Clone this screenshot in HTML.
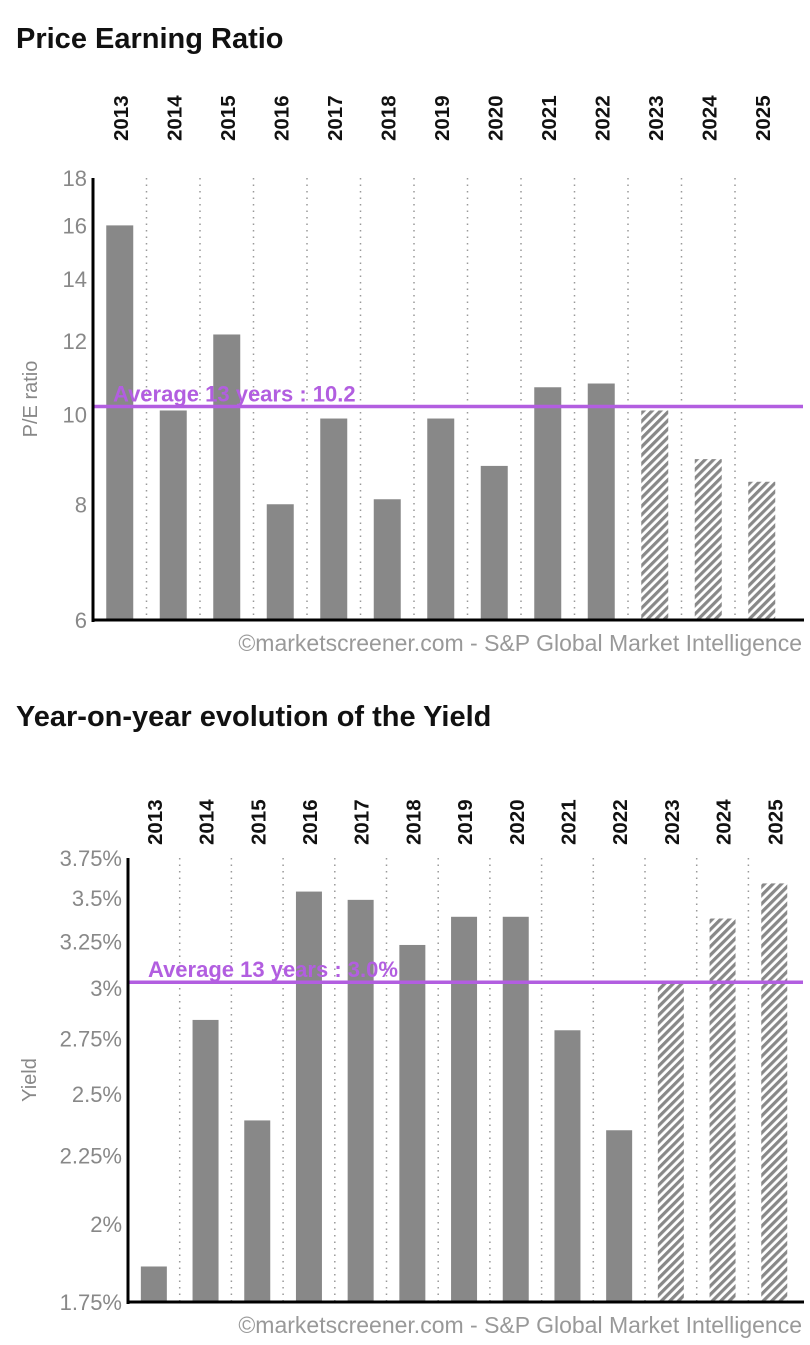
<!DOCTYPE html>
<html><head><meta charset="utf-8"><style>
body{margin:0;background:#fff;width:810px;height:1345px;overflow:hidden;font-family:"Liberation Sans",sans-serif}
svg{position:absolute;left:0;top:0}
</style></head><body>
<svg id="s" width="810" height="1345">
<defs><pattern id="hatch" patternUnits="userSpaceOnUse" width="6" height="6" patternTransform="rotate(45)"><rect width="6" height="6" fill="#fff"/><rect width="3.2" height="6" fill="#888"/></pattern></defs>
<text x="16" y="48" font-size="29" font-weight="bold" fill="#111">Price Earning Ratio</text>
<text x="16" y="726" font-size="29" font-weight="bold" fill="#111">Year-on-year evolution of the Yield</text>
</svg>
<script>
const years=["2013","2014","2015","2016","2017","2018","2019","2020","2021","2022","2023","2024","2025"];
const peValues=[16.0,10.1,12.2,8.0,9.9,8.1,9.9,8.8,10.7,10.8,10.1,8.95,8.46];
const peTicks=[6,8,10,12,14,16,18];
const peAvg=10.2;
const yieldValues=[1.86,2.84,2.39,3.54,3.49,3.23,3.39,3.39,2.79,2.35,3.03,3.38,3.59];
const yieldTicks=[1.75,2,2.25,2.5,2.75,3,3.25,3.5,3.75];
const yieldTickLabels=["1.75%","2%","2.25%","2.5%","2.75%","3%","3.25%","3.5%","3.75%"];
const yieldAvg=3.03;
const forecastFrom=10;
const svg=document.getElementById('s');
const NS='http://www.w3.org/2000/svg';
function mk(tag,attrs,parent){const e=document.createElementNS(NS,tag);for(const k in attrs)e.setAttribute(k,attrs[k]);(parent||svg).appendChild(e);return e;}
function chart(o){
  const g=mk('g',{});
  
  
  const ly=v=>o.bottom-(Math.log(v)-Math.log(o.min))/(Math.log(o.max)-Math.log(o.min))*(o.bottom-o.top);
  const sx=i=>o.left+o.step*(i+0.5);
  for(let i=1;i<years.length;i++){const l=mk('line',{x1:o.left+o.step*i,x2:o.left+o.step*i,y1:o.top,y2:o.bottom,stroke:'#999','stroke-width':1.5,'stroke-dasharray':'1.5 5'},g);}
  o.values.forEach((v,i)=>{
    const y=ly(v);
    const r=mk('rect',{x:sx(i)-o.bw/2,y:y,width:o.bw,height:o.bottom-y,fill:i>=forecastFrom?'url(#hatch)':'#888'},g);
    
    
    const t=mk('text',{x:0,y:0,'font-size':20.5,'font-weight':'bold',fill:'#111',transform:`translate(${sx(i)+8},${o.labelBase}) rotate(-90)`},g);
    t.textContent=years[i];
    
    
  });
  o.ticks.forEach((v,i)=>{
    const t=mk('text',{x:o.left-6,y:ly(v)+8,'font-size':22,fill:'#888','text-anchor':'end'},g);
    t.textContent=o.tickLabels?o.tickLabels[i]:v;
    
    
  });
  const ya=ly(o.avg);
  const al=mk('line',{x1:o.left,x2:803,y1:ya,y2:ya,stroke:'#b25ee0','stroke-width':3.5},g);
  
  
  const at=mk('text',{x:o.avgX,y:ya-5,'font-size':22,'font-weight':'bold',fill:'#b25ee0'},g);
  at.textContent=o.avgLabel;
  
  
  const ax=mk('line',{x1:o.left,x2:o.left,y1:o.top,y2:o.bottom+2,stroke:'#000','stroke-width':3},g);
  
  
  const bx=mk('line',{x1:o.left,x2:804,y1:o.bottom,y2:o.bottom,stroke:'#000','stroke-width':3},g);
  
  
  const yt=mk('text',{x:0,y:0,'font-size':20,fill:'#888','text-anchor':'middle',transform:`translate(${o.ytX},${(o.top+o.bottom)/2}) rotate(-90)`},g);
  yt.textContent=o.yTitle;
  
  
  const c=mk('text',{x:802,y:o.bottom+31,'font-size':23,fill:'#999','text-anchor':'end'},g);
  c.textContent='©marketscreener.com - S&P Global Market Intelligence';
  
  
}
chart({name:'pe-chart',values:peValues,ticks:peTicks,min:6,max:18,top:178,bottom:620,left:93,step:53.5,bw:27,avg:peAvg,avgLabel:'Average 13 years : 10.2',avgX:113,yTitle:'P/E ratio',ytX:37,labelBase:141});
chart({name:'yield-chart',values:yieldValues,ticks:yieldTicks,tickLabels:yieldTickLabels,min:1.75,max:3.75,top:858,bottom:1302,left:128,step:51.7,bw:26,avg:yieldAvg,avgLabel:'Average 13 years : 3.0%',avgX:148,yTitle:'Yield',ytX:36,labelBase:845});
</script>
</body></html>
